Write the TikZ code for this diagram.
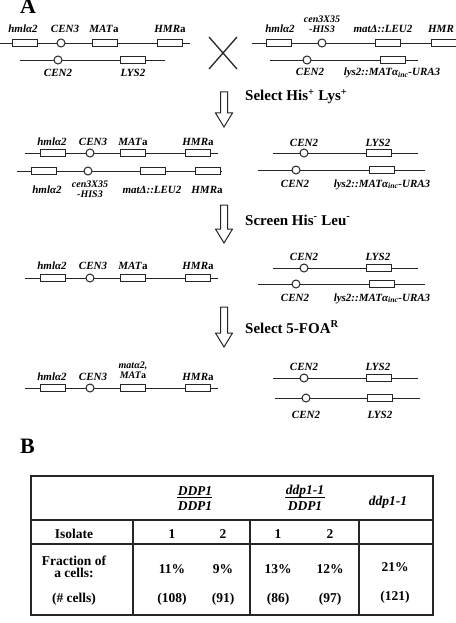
\documentclass[tikz,border=0pt]{standalone}
\usepackage{fontspec}
\setmainfont{Liberation Serif}
\newcommand\harrow[3]{\draw[hollow] ({#1-3.5},#2) -- ({#1+3.5},#2) -- ({#1+3.5},{#3-14}) -- ({#1+8.5},{#3-14}) -- (#1,#3) -- ({#1-8.5},{#3-14}) -- ({#1-3.5},{#3-14}) -- cycle;}
\begin{document}
\begin{tikzpicture}[x=1pt,y=-1pt,
  chr/.style={line width=0.9pt, draw=black!85},
  gene/.style={draw=black!85, fill=white, line width=1pt, minimum width=25pt, minimum height=7pt, inner sep=0pt},
  cen/.style={circle, draw=black!85, fill=white, line width=1pt, minimum size=8pt, inner sep=0pt},
  lbl/.style={font=\fontsize{11}{11}\selectfont\bfseries\itshape, inner sep=0pt, anchor=base},
  slbl/.style={font=\fontsize{10}{10}\selectfont\bfseries\itshape, inner sep=0pt, anchor=base},
  steptext/.style={font=\fontsize{15}{15}\selectfont\bfseries, inner sep=0pt, anchor=base west},
  tbl/.style={font=\fontsize{13.5}{13.5}\selectfont\bfseries, inner sep=0pt, anchor=base},
  tbli/.style={font=\fontsize{13.5}{13.5}\selectfont\bfseries\itshape, inner sep=0pt, anchor=base},
  panel/.style={font=\fontsize{22}{22}\selectfont\bfseries, inner sep=0pt, anchor=base west},
  hollow/.style={draw=black!85, line width=1pt, fill=white, line join=miter},
  tline/.style={line width=1.1pt, draw=black!85},
  xline/.style={line width=1.3pt, draw=black!85}
]
\useasboundingbox (0,0) rectangle (455,623);

% ---------- Panel A ----------
\node[panel] (A) at (20,14) {A};

% Row 1 left: chromosome III
\draw[chr] (0,43) -- (190,43);
\node[gene] (r1g1) at (24.5,43) {};
\node[cen]  (r1c1) at (61,43) {};
\node[gene] (r1g2) at (104.5,43) {};
\node[gene] (r1g3) at (169.5,43) {};
\node[lbl] (r1l1) at (23,33) {hmlα2};
\node[lbl] (r1l2) at (65,33) {CEN3};
\node[lbl] (r1l3) at (104,33) {MAT\textup{a}};
\node[lbl] (r1l4) at (170,33) {HMR\textup{a}};
% Row 1 left: chromosome II
\draw[chr] (20,60) -- (165,60);
\node[cen]  (r1c2) at (58,60) {};
\node[gene] (r1g4) at (132.5,60) {};
\node[lbl] (r1l5) at (58,77) {CEN2};
\node[lbl] (r1l6) at (133,77) {LYS2};

% cross
\draw[xline] (209,37) -- (237,69) (209,69) -- (237,37);

% Row 1 right: chromosome III
\draw[chr] (252,43) -- (458,43);
\node[gene] (r1g5) at (278.5,43) {};
\node[cen]  (r1c3) at (322,43) {};
\node[gene] (r1g6) at (388,43) {};
\node[gene] (r1g7) at (443.5,43) {};
\node[lbl] (r1l7) at (280,33) {hmlα2};
\node[slbl] (r1l8) at (322,23) {cen3X35};
\node[slbl] (r1l9) at (322,33) {-HIS3};
\node[lbl] (r1l10) at (383,33) {matΔ::LEU2};
\node[lbl] (r1l11) at (441,33) {HMR};
% Row 1 right: chromosome II
\draw[chr] (270,60) -- (418,60);
\node[cen]  (r1c4) at (307,60) {};
\node[gene] (r1g8) at (392.5,60) {};
\node[lbl] (r1l12) at (310,76) {CEN2};
\node[lbl] (r1l13) at (392,76) {lys2::MATα\textsubscript{inc}-URA3};

% step 1
\harrow{224}{92}{127}
\node[steptext] (s1) at (245,101) {Select His\textsuperscript{+} Lys\textsuperscript{+}};

% Row 2 left a
\draw[chr] (25,153) -- (218,153);
\node[gene] (r2g1) at (52.5,153) {};
\node[cen]  (r2c1) at (90,153) {};
\node[gene] (r2g2) at (133,153) {};
\node[gene] (r2g3) at (198,153) {};
\node[lbl] at (52,145) {hmlα2};
\node[lbl] at (93,145) {CEN3};
\node[lbl] at (133,145) {MAT\textup{a}};
\node[lbl] at (198,145) {HMR\textup{a}};
% Row 2 left b
\draw[chr] (17,171) -- (222,171);
\node[gene] (r2g4) at (43.5,171) {};
\node[cen]  (r2c2) at (88,171) {};
\node[gene] (r2g5) at (152.5,171) {};
\node[gene] (r2g6) at (207.5,171) {};
\node[lbl] at (47,193) {hmlα2};
\node[slbl] at (90,187) {cen3X35};
\node[slbl] at (90,197) {-HIS3};
\node[lbl] at (152,193) {matΔ::LEU2};
\node[lbl] at (207,193) {HMR\textup{a}};
% Row 2 right a
\draw[chr] (273,153) -- (418,153);
\node[cen]  (r2c3) at (304,153) {};
\node[gene] (r2g7) at (378.5,153) {};
\node[lbl] at (304,146) {CEN2};
\node[lbl] at (378,146) {LYS2};
% Row 2 right b
\draw[chr] (258,170) -- (425,170);
\node[cen]  (r2c4) at (296,170) {};
\node[gene] (r2g8) at (381.5,170) {};
\node[lbl] at (295,187) {CEN2};
\node[lbl] at (382,187) {lys2::MATα\textsubscript{inc}-URA3};

% step 2
\harrow{224}{205}{243}
\node[steptext] (s2) at (245,225) {Screen His\textsuperscript{-} Leu\textsuperscript{-}};

% Row 3 left
\draw[chr] (25,278) -- (218,278);
\node[gene] (r3g1) at (52.5,278) {};
\node[cen]  (r3c1) at (90,278) {};
\node[gene] (r3g2) at (133,278) {};
\node[gene] (r3g3) at (198,278) {};
\node[lbl] at (52,269) {hmlα2};
\node[lbl] at (93,269) {CEN3};
\node[lbl] at (133,269) {MAT\textup{a}};
\node[lbl] at (198,269) {HMR\textup{a}};
% Row 3 right a
\draw[chr] (273,268) -- (418,268);
\node[cen]  (r3c2) at (304,268) {};
\node[gene] (r3g4) at (378.5,268) {};
\node[lbl] at (304,260) {CEN2};
\node[lbl] at (378,260) {LYS2};
% Row 3 right b
\draw[chr] (258,284) -- (425,284);
\node[cen]  (r3c3) at (296,284) {};
\node[gene] (r3g5) at (381.5,284) {};
\node[lbl] at (295,301) {CEN2};
\node[lbl] at (382,301) {lys2::MATα\textsubscript{inc}-URA3};

% step 3
\harrow{224}{307}{347}
\node[steptext] (s3) at (245,333) {Select 5-FOA\textsuperscript{R}};

% Row 4 left
\draw[chr] (25,388) -- (218,388);
\node[gene] (r4g1) at (52.5,388) {};
\node[cen]  (r4c1) at (90,388) {};
\node[gene] (r4g2) at (133,388) {};
\node[gene] (r4g3) at (198,388) {};
\node[lbl] at (52,380) {hmlα2};
\node[lbl] at (93,380) {CEN3};
\node[slbl] at (133,368) {matα2,};
\node[slbl] at (133,378.5) {MAT\textup{a}};
\node[lbl] at (198,380) {HMR\textup{a}};
% Row 4 right a
\draw[chr] (273,378) -- (418,378);
\node[cen]  (r4c2) at (304,378) {};
\node[gene] (r4g4) at (378.5,378) {};
\node[lbl] at (304,370) {CEN2};
\node[lbl] at (378,370) {LYS2};
% Row 4 right b
\draw[chr] (275,398) -- (420,398);
\node[cen]  (r4c3) at (306,398) {};
\node[gene] (r4g5) at (380,398) {};
\node[lbl] at (306,418) {CEN2};
\node[lbl] at (380,418) {LYS2};

% ---------- Panel B ----------
\node[panel] (B) at (20,453) {B};

\draw[tline] (31,476) rectangle (433,615);
\draw[tline] (31,520) -- (433,520) (31,544) -- (433,544);
\draw[tline] (133,520) -- (133,615) (250,520) -- (250,615) (359,520) -- (359,615);

% header
\node[tbli] (h1n) at (195,495) {DDP1};
\draw[line width=0.9pt] (177,497.8) -- (212,497.8);
\node[tbli] (h1d) at (195,510.5) {DDP1};
\node[tbli] (h2n) at (305,494) {ddp1-1};
\draw[line width=0.9pt] (285,497.8) -- (325,497.8);
\node[tbli] (h2d) at (305,510.5) {DDP1};
\node[tbli] (h3) at (388,505) {ddp1-1};

% rows
\node[tbl] at (74,538) {Isolate};
\node[tbl] at (172,538) {1};
\node[tbl] at (223,538) {2};
\node[tbl] at (278,538) {1};
\node[tbl] at (330,538) {2};

\node[tbl] at (74,565) {Fraction of};
\node[tbl] at (74,577) {a cells:};
\node[tbl] at (172,573) {11\%};
\node[tbl] at (223,573) {9\%};
\node[tbl] at (278,573) {13\%};
\node[tbl] at (330,573) {12\%};
\node[tbl] at (395,571) {21\%};

\node[tbl] at (74,602) {(\# cells)};
\node[tbl] at (172,602) {(108)};
\node[tbl] at (223,602) {(91)};
\node[tbl] at (278,602) {(86)};
\node[tbl] at (330,602) {(97)};
\node[tbl] at (395,600) {(121)};
\end{tikzpicture}
\end{document}
